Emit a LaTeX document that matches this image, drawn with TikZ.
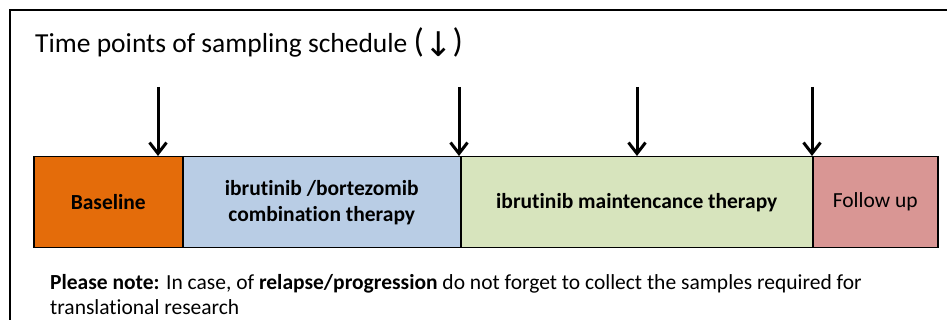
\documentclass[tikz,border=0pt]{standalone}
\usepackage{fontspec}
\setmainfont{Carlito}[Ligatures=CommonOff]
\newfontfamily\symfont{DejaVu Sans}
\usetikzlibrary{arrows.meta}
\definecolor{cOrange}{HTML}{E46C0A}
\definecolor{cBlue}{HTML}{B9CDE5}
\definecolor{cGreen}{HTML}{D7E4BD}
\definecolor{cPink}{HTML}{D99694}
\begin{document}
\begin{tikzpicture}[x=1pt,y=-1pt,
  phase/.style={draw=black, line width=1.5pt, anchor=north west, minimum height=91pt, inner sep=0pt, align=center, font=\fontsize{21.5}{26}\selectfont},
  sample/.style={line width=3pt, -{Straight Barb[length=11pt,width=17pt,line width=3pt]}}]
\useasboundingbox (0,0) rectangle (947,320);
\draw[line width=2pt] (10,330) -- (10,10) -- (960,10);
\node[anchor=base west, inner sep=0pt, font=\fontsize{27.5}{30}\selectfont] (title) at (35,53) {Time points of sampling schedule {\fontsize{34}{30}\selectfont(}\raisebox{-4pt}{\symfont\fontsize{34}{30}\selectfont↓}{\fontsize{34}{30}\selectfont)}};
\node[phase, fill=cOrange, minimum width=149pt] (base) at (33,156) {\bfseries Baseline};
\node[phase, fill=cBlue, minimum width=278pt] (comb) at (182,156) {\bfseries ibrutinib /bortezomib\\\bfseries combination therapy};
\node[phase, fill=cGreen, minimum width=352pt] (maint) at (460,156) {\bfseries ibrutinib maintencance therapy};
\node[phase, fill=cPink, minimum width=125pt] (fu) at (812,156) {Follow up};
\coordinate (a1) at (158,87);
\coordinate (a2) at (459,87);
\coordinate (a3) at (637,87);
\coordinate (a4) at (812,87);
\draw[sample] (a1) -- (a1 |- base.north);
\draw[sample] (a2) -- (a2 |- base.north);
\draw[sample] (a3) -- (a3 |- base.north);
\draw[sample] (a4) -- (a4 |- base.north);
\node[anchor=north west, inner sep=0pt, align=left, font=\fontsize{21.5}{25}\selectfont] (note) at (50,274) {\textbf{Please note:} In case, of \textbf{relapse/progression} do not forget to collect the samples required for\\translational research};
\end{tikzpicture}
\end{document}
